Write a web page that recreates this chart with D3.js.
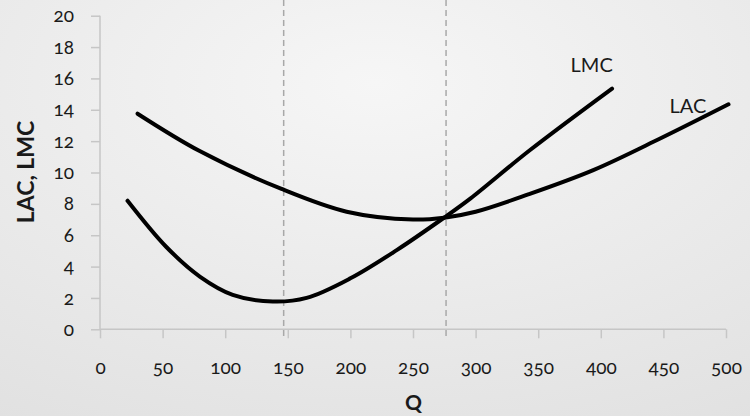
<!DOCTYPE html>
<html>
<head>
<meta charset="utf-8">
<script src="https://cdn.jsdelivr.net/npm/d3@7"></script>
<style>
  html, body { margin: 0; padding: 0; }
  svg { display: block; }
  text { font-family: Lato, "Open Sans", sans-serif; fill: #1a1a1a; font-variant-numeric: oldstyle-nums; }
</style>
</head>
<body>
<svg id="chart" width="750" height="416"></svg>
<script>
// Data
const lacQ = [30, 80, 145, 197, 250, 275, 300, 342, 394, 447, 502];
const lacV = [13.75, 11.35, 8.95, 7.5, 7.0, 7.12, 7.5, 8.6, 10.15, 12.15, 14.35];
const lmcQ = [22, 53, 80, 106, 138, 165, 200, 237, 275, 296, 343, 409];
const lmcV = [8.2, 5.25, 3.35, 2.2, 1.77, 2.0, 3.25, 5.05, 7.13, 8.35, 11.4, 15.35];
const xTicks = [0, 50, 100, 150, 200, 250, 300, 350, 400, 450, 500];
const yTicks = [0, 2, 4, 6, 8, 10, 12, 14, 16, 18, 20];
const refQ = [146.7, 276.4];
const seriesLabels = [{name: "LMC", q: 392.7, v: 16.9}, {name: "LAC", q: 469.6, v: 14.3}];

const svg = d3.select("#chart");
const W = 750, H = 416;

const defs = svg.append("defs");
const grad = defs.append("radialGradient").attr("id", "bg")
  .attr("cx", "50%").attr("cy", "20%").attr("r", "95%");
grad.append("stop").attr("offset", "0%").attr("stop-color", "#f6f6f6");
grad.append("stop").attr("offset", "100%").attr("stop-color", "#e1e1e1");
svg.append("rect").attr("width", W).attr("height", H).attr("fill", "url(#bg)");

const x = d3.scaleLinear().domain([0, 500]).range([100, 726]);
const y = d3.scaleLinear().domain([0, 20]).range([329.3, 15.7]);

// Axes
const axisColor = "#c6c6c6";
const xAxis = svg.append("g").attr("transform", `translate(0,${y(0)})`)
  .call(d3.axisBottom(x).tickValues(xTicks).tickSize(9).tickPadding(20).tickFormat(d3.format("d")));
const yAxis = svg.append("g").attr("transform", `translate(${x(0)},0)`)
  .call(d3.axisLeft(y).tickValues(yTicks).tickSize(9).tickPadding(17).tickFormat(d3.format("d")));
[xAxis, yAxis].forEach(g => {
  g.select(".domain").attr("stroke", axisColor).attr("stroke-width", 1.5);
  g.selectAll(".tick line").attr("stroke", axisColor).attr("stroke-width", 1.5);
  g.selectAll(".tick text").attr("font-size", 19).attr("fill", "#1a1a1a")
    .style("font-family", "Lato, 'Open Sans', sans-serif");
});
xAxis.selectAll(".tick text").attr("dy", null).attr("y", 0)
  .attr("dominant-baseline", "central").attr("transform", "translate(0,37.4)");
xAxis.select(".domain").attr("d", `M${x(0)},0H${x(500)}`);
yAxis.select(".domain").attr("d", `M0,${y(20)}V${y(0)}`);

// Dashed reference lines
svg.append("g").selectAll("line").data(refQ).join("line")
  .attr("x1", d => x(d)).attr("x2", d => x(d))
  .attr("y1", 0).attr("y2", y(0) + 9)
  .attr("stroke", "#a8a8a8").attr("stroke-width", 1.5).attr("stroke-dasharray", "6,4");

// Curves
const line = d3.line().x(d => x(d[0])).y(d => y(d[1])).curve(d3.curveCatmullRom.alpha(0.5));
const lacData = lacQ.map((q, i) => [q, lacV[i]]);
const lmcData = lmcQ.map((q, i) => [q, lmcV[i]]);
[lacData, lmcData].forEach(data => {
  svg.append("path").datum(data).attr("d", line)
    .attr("fill", "none").attr("stroke", "#000").attr("stroke-width", 4)
    .attr("stroke-linecap", "round").attr("stroke-linejoin", "round");
});

// Series labels
svg.append("g").selectAll("text").data(seriesLabels).join("text")
  .attr("x", d => x(d.q)).attr("y", d => y(d.v))
  .attr("text-anchor", "middle").attr("dominant-baseline", "central")
  .attr("font-size", 20).text(d => d.name);

// Axis titles
svg.append("text").attr("x", 413.5).attr("y", 401)
  .attr("text-anchor", "middle").attr("dominant-baseline", "central")
  .attr("font-size", 21).attr("font-weight", "bold").text("Q");
svg.append("text").attr("transform", "translate(25,172) rotate(-90)")
  .attr("text-anchor", "middle").attr("dominant-baseline", "central")
  .attr("font-size", 23).attr("font-weight", "bold").text("LAC, LMC");
</script>
</body>
</html>
